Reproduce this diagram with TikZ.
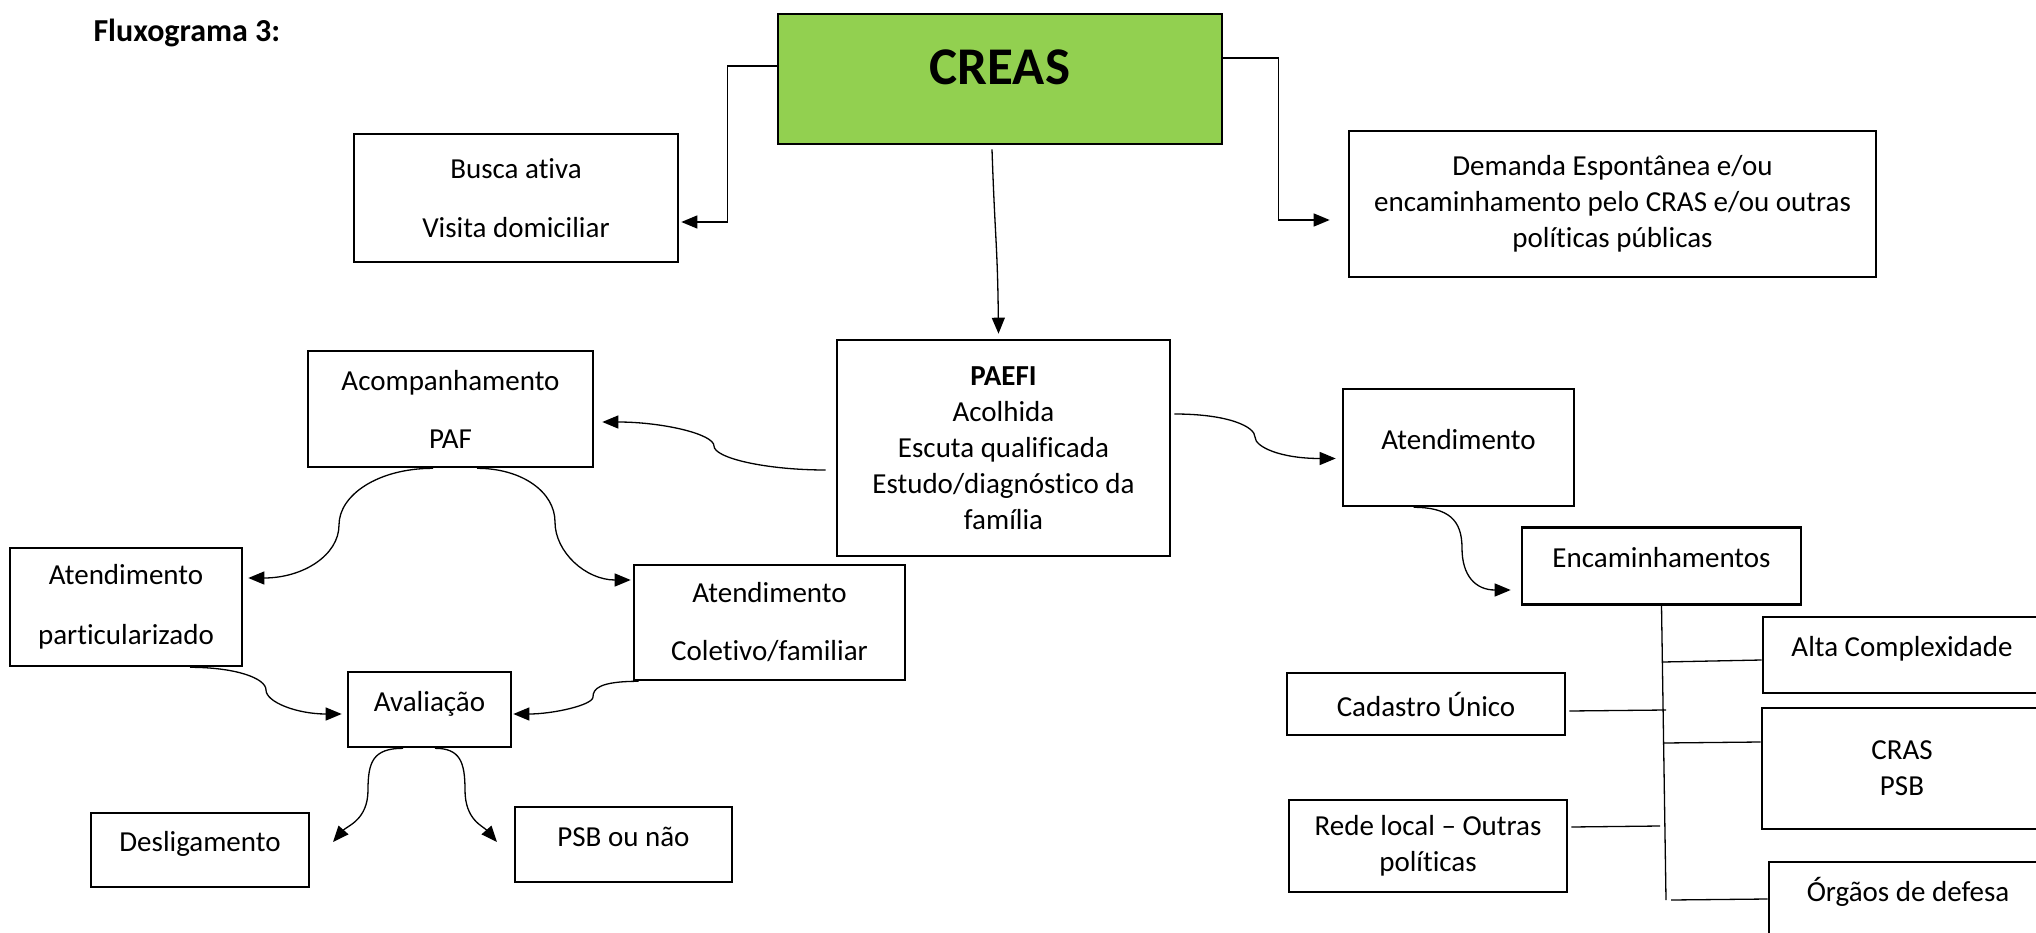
\documentclass[tikz,border=0pt]{standalone}
\usepackage{fontspec}
\setmainfont{Carlito}[Ligatures=NoCommon]
\usetikzlibrary{arrows.meta}
\definecolor{creasgreen}{HTML}{92D050}
\newcommand*{\xMax}{2036}
\newcommand*{\yMax}{933}
\newcommand\body{\fontsize{29}{36}\selectfont}
\newcommand\titlefont{\fontsize{32}{38}\selectfont\bfseries}
\newcommand\creasfont{\fontsize{53}{64}\selectfont\bfseries}
% S-shaped connector: start, middle, end, horizontal and vertical handle
\newcommand\CurvedLink[5]{
	\path [draw, conn] (#1) .. controls +(#4,0) and +(0,{-(#5)}) .. (#2) .. controls +(0,#5) and +({-(#4)},0) .. (#3);
}

\begin{document}
\begin{tikzpicture}[x=1pt, y=-1pt, every node/.style={font=\body},
	box/.style={draw, line width=2.6pt, inner sep=0pt, align=center},
	single/.style={text height=22pt, text depth=19pt},
	line/.style={line width=1.3pt},
	conn/.style={line width=1.3pt, ->},
	>={Triangle[length=16pt,width=13pt]}]
	\useasboundingbox (0,0) rectangle (\xMax,\yMax);
	\node [font=\titlefont, anchor=base west] (titulo) at (90,42) {Fluxograma 3:};
	\node [box, fill=creasgreen, minimum width=444pt, minimum height=130pt, font=\creasfont, text height=40pt, text depth=28pt] (creas) at (1000,79) {CREAS};
	\node [box, minimum width=324pt, minimum height=128pt] (busca) at (516,198) {Busca ativa\\[23pt]Visita domiciliar};
	\node [box, minimum width=527pt, minimum height=146pt] (demanda) at (1612.5,204) {Demanda Espontânea e/ou\\encaminhamento pelo CRAS e/ou outras\\políticas públicas};
	\node [box, minimum width=333pt, minimum height=216pt] (paefi) at (1003.5,448) {\textbf{PAEFI}\\Acolhida\\Escuta qualificada\\Estudo/diagnóstico da\\família};
	\node [box, minimum width=285pt, minimum height=116pt] (acomp) at (450.5,409) {Acompanhamento\\[22pt]PAF};
	\node [box, minimum width=232pt, minimum height=118pt] (atpart) at (126,607) {Atendimento\\[24pt]particularizado};
	\node [box, minimum width=271pt, minimum height=115pt] (atcol) at (769.5,622.5) {Atendimento\\[22pt]Coletivo/familiar};
	\node [box, single, minimum width=163pt, minimum height=75pt] (aval) at (429.5,709.5) {Avaliação};
	\node [box, single, minimum width=218pt, minimum height=74pt] (deslig) at (200,850) {Desligamento};
	\node [box, single, minimum width=217pt, minimum height=75pt] (psb) at (623.5,844.5) {PSB ou não};
	\node [box, single, minimum width=231pt, minimum height=117pt] (atend) at (1458.5,447.5) {Atendimento};
	\node [box, single, minimum width=279pt, minimum height=77pt] (encam) at (1661.5,566) {Encaminhamentos};
	\node [box, single, minimum width=278pt, minimum height=76pt] (alta) at (1902,655) {Alta Complexidade};
	\node [box, minimum width=280pt, minimum height=121pt] (cras) at (1902,768.5) {CRAS\\PSB};
	\node [box, single, minimum width=278pt, minimum height=76pt] (orgaos) at (1908,900) {Órgãos de defesa};
	\node [box, minimum width=278pt, minimum height=62pt] (cadastro) at (1426,704) {Cadastro Único};
	\node [box, minimum width=278pt, minimum height=92pt] (rede) at (1428,846) {Rede local – Outras\\políticas};

	% CREAS
	\path [draw, conn] ([yshift=13pt]creas.west) -- ++(-49,0) |- ([shift={(2pt,-24pt)}]busca.east);
	\path [draw, conn] ([yshift=21pt]creas.east) -- ++(55,0) |- ([shift={(-18pt,-16pt)}]demanda.west);
	\path [draw, conn] ([xshift=-8pt,yshift=-4pt]creas.south) .. controls +(3,90) and +(-1,-90) .. ([xshift=-5pt,yshift=5pt]paefi.north);

	% PAEFI and follow-up
	\CurvedLink{[shift={(-10pt,-22pt)}]paefi.west}{714,446}{[shift={(8pt,-13pt)}]acomp.east}{-60}{-12}
	\CurvedLink{[xshift=-17.5pt]acomp.south}{339,525}{[shift={(5pt,29pt)}]atpart.east}{-55}{30}
	\CurvedLink{[xshift=26.5pt]acomp.south}{555,522}{[shift={(-2pt,42.5pt)}]atcol.west}{45}{30}
	\CurvedLink{[xshift=64pt]atpart.south}{266,690}{[shift={(-5pt,-4.5pt)}]aval.west}{45}{12}
	\CurvedLink{[xshift=6pt]atcol.south west}{593,697}{[shift={(1pt,-4.5pt)}]aval.east}{-40}{8}
	\coordinate (desligtip) at (333,842);
	\coordinate (psbtip) at (497,842);
	\path [draw, conn] ([xshift=-26.5pt]aval.south) .. controls +(-30,0) and +(0,-28) .. (368,790) .. controls +(0,30) and +(14,-16) .. (desligtip);
	\path [draw, conn] ([xshift=5.5pt]aval.south) .. controls +(25,0) and +(0,-28) .. (465,790) .. controls +(0,30) and +(-14,-16) .. (psbtip);

	% right side
	\CurvedLink{[shift={(3pt,34pt)}]paefi.east}{1255,437}{[shift={(-6pt,-11pt)}]atend.west}{55}{10}
	\CurvedLink{[xshift=-45pt]atend.south}{1462,548}{[shift={(-10pt,-24pt)}]encam.west}{35}{28}
	\coordinate (trunkend) at (1666,900);
	\coordinate (jalta) at (1663,662);
	\coordinate (jcras) at (1664,743);
	\coordinate (jorgaos) at (1671,900);
	\coordinate (jcadastro) at (1666,710);
	\coordinate (jrede) at (1660,826);
	\path [draw, line] (encam.south) -- (trunkend);
	\foreach \b/\s in {alta/-5, cras/26.5, orgaos/1}
	{
		\path [draw, line] (j\b) -- ([yshift=\s pt]\b.west);
	}
	\foreach \b/\s in {cadastro/-7, rede/19}
	{
		\path [draw, line] ([shift={(3pt,\s pt)}]\b.east) -- (j\b);
	}
\end{tikzpicture}
\end{document}
